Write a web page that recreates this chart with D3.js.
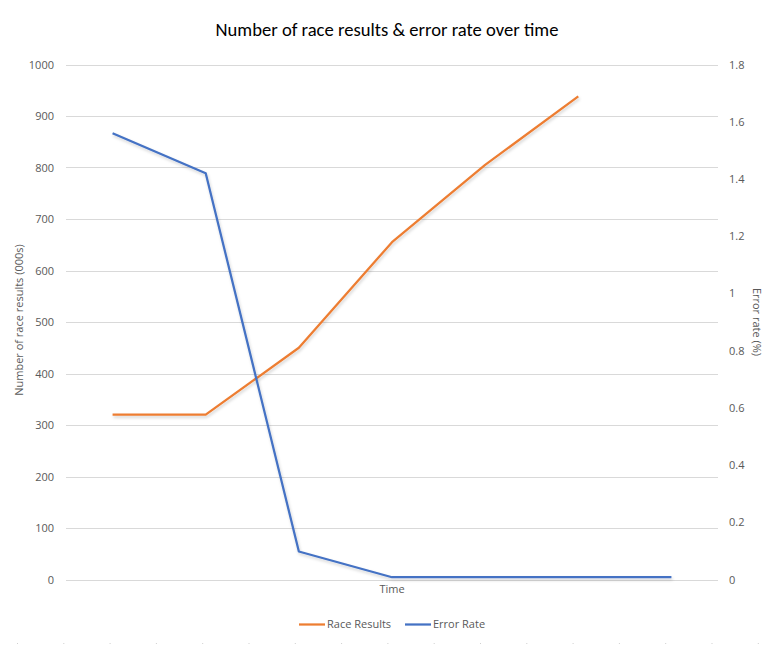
<!DOCTYPE html>
<html><head><meta charset="utf-8">
<script src="https://cdn.jsdelivr.net/npm/d3@7"></script>
<style>
html,body{margin:0;padding:0;background:#fff;}
svg{display:block;}
</style></head>
<body>
<svg id="chart" width="779" height="645"></svg>
<script>
const categories = ["1","2","3","4","5","6","7"];
const raceResults = [320, 320, 450, 655, 805, 938];
const errorRate = [1.56, 1.42, 0.098, 0.008, 0.008, 0.008, 0.008];
const leftTicks = [0,100,200,300,400,500,600,700,800,900,1000];
const rightTicks = [0,0.2,0.4,0.6,0.8,1,1.2,1.4,1.6,1.8];

const svg = d3.select("#chart");
const W = 779, H = 645;
const m = {left: 66, right: 61, top: 64.5, bottom: 65.5};
const x = d3.scaleBand().domain(categories).range([m.left, W - m.right]);
const yL = d3.scaleLinear().domain([0, 1000]).range([H - m.bottom, m.top]);
const yR = d3.scaleLinear().domain([0, 1.8]).range([H - m.bottom, m.top]);

const defs = svg.append("defs");
const f = defs.append("filter").attr("id","sh").attr("x","-10%").attr("y","-10%").attr("width","120%").attr("height","130%");
f.append("feDropShadow").attr("dx",1).attr("dy",2).attr("stdDeviation",1.5).attr("flood-color","#000").attr("flood-opacity",0.18);

const tickFont = "'Open Sans', 'Segoe UI', sans-serif";

// gridlines
svg.append("g").selectAll("line").data(leftTicks).join("line")
  .attr("x1", m.left).attr("x2", W - m.right)
  .attr("y1", d => Math.round(yL(d)) + 0.5).attr("y2", d => Math.round(yL(d)) + 0.5)
  .attr("stroke", "#d9d9d9").attr("stroke-width", 1);

// left axis
const gl = svg.append("g").attr("transform", `translate(${m.left},0)`)
  .call(d3.axisLeft(yL).tickValues(leftTicks).tickSize(0).tickPadding(12).tickFormat(d3.format("d")));
gl.select(".domain").remove();
gl.selectAll("text").attr("font-family", tickFont).attr("font-size", 11).attr("fill", "#595959");

// right axis
const gr = svg.append("g").attr("transform", `translate(${W - m.right},0)`)
  .call(d3.axisRight(yR).tickValues(rightTicks).tickSize(0).tickPadding(11).tickFormat(d => d3.format("~g")(+d.toFixed(1))));
gr.select(".domain").remove();
gr.selectAll("text").attr("font-family", tickFont).attr("font-size", 11).attr("fill", "#595959");

// lines
const lineL = d3.line().x((d,i) => x(categories[i]) + x.bandwidth()/2).y(d => yL(d));
const lineR = d3.line().x((d,i) => x(categories[i]) + x.bandwidth()/2).y(d => yR(d));
svg.append("path").datum(raceResults).attr("d", lineL).attr("fill","none")
  .attr("stroke","#ED7D31").attr("stroke-width",2.25).attr("stroke-linejoin","round").attr("filter","url(#sh)");
svg.append("path").datum(errorRate).attr("d", lineR).attr("fill","none")
  .attr("stroke","#4472C4").attr("stroke-width",2.25).attr("stroke-linejoin","round").attr("filter","url(#sh)");

// title
svg.append("text").attr("x", 387).attr("y", 36).attr("text-anchor","middle")
  .attr("font-family","Carlito, Calibri, Lato, sans-serif").attr("font-size", 18.6).attr("fill","#000")
  .text("Number of race results & error rate over time");

// axis titles
svg.append("text").attr("transform", "translate(23,320) rotate(-90)").attr("text-anchor","middle")
  .attr("font-family", tickFont).attr("font-size", 11).attr("fill","#595959")
  .text("Number of race results (000s)");
svg.append("text").attr("transform", "translate(753,322) rotate(90)").attr("text-anchor","middle")
  .attr("font-family", tickFont).attr("font-size", 11).attr("fill","#595959")
  .text("Error rate (%)");
svg.append("text").attr("x", 392).attr("y", 593).attr("text-anchor","middle")
  .attr("font-family", tickFont).attr("font-size", 11).attr("fill","#595959")
  .text("Time");

// legend
const legend = [{name:"Race Results", color:"#ED7D31", x:299},{name:"Error Rate", color:"#4472C4", x:405}];
const lg = svg.append("g").selectAll("g").data(legend).join("g").attr("transform", d => `translate(${d.x},624)`);
lg.append("line").attr("x1",0).attr("x2",26).attr("y1",0.5).attr("y2",0.5).attr("stroke", d => d.color).attr("stroke-width",2.25);
lg.append("text").attr("x",28).attr("y",4).attr("font-family", tickFont).attr("font-size",11).attr("fill","#595959").text(d => d.name);

// faint bottom marks
svg.append("line").attr("x1",17).attr("x2",779).attr("y1",643.5).attr("y2",643.5)
  .attr("stroke","#d0d0d0").attr("stroke-width",1).attr("stroke-dasharray","1,45.3");
</script>
</body></html>
